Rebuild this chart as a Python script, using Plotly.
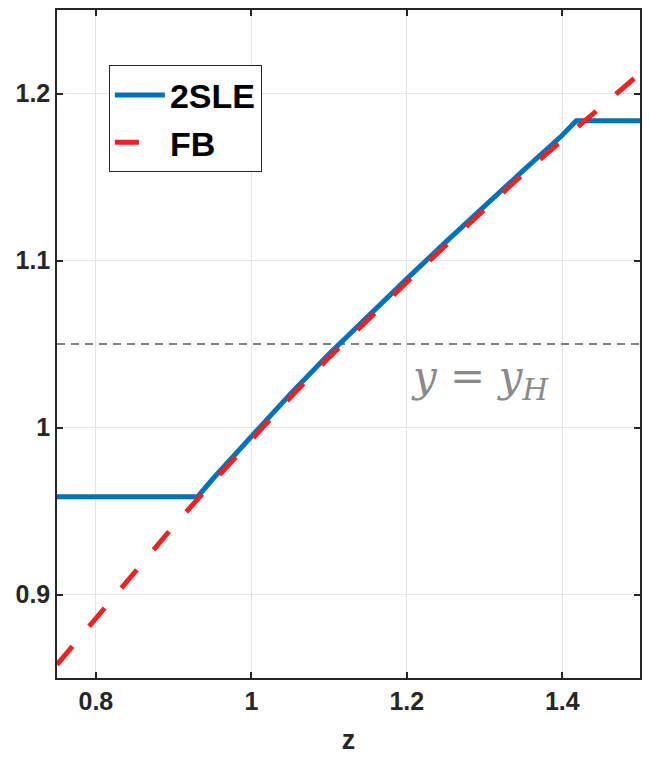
import plotly.graph_objects as go

# --- data ---
z_2sle = [0.75, 0.931, 0.95, 1.0, 1.05, 1.1, 1.15, 1.2, 1.25, 1.3, 1.35, 1.4, 1.418, 1.5]
y_2sle = [0.9586, 0.9586, 0.969, 0.995, 1.020, 1.044, 1.067, 1.089, 1.111, 1.133, 1.154, 1.175, 1.1837, 1.1837]

z_fb = [0.75, 0.8, 0.85, 0.9, 0.95, 1.0, 1.05, 1.1, 1.15, 1.2, 1.25, 1.3, 1.35, 1.4, 1.45, 1.5]
y_fb = [0.858, 0.886, 0.914, 0.941, 0.967, 0.993, 1.018, 1.042, 1.065, 1.087, 1.109, 1.131, 1.152, 1.172, 1.192, 1.212]

y_h = 1.05
x_ticks = [0.8, 1.0, 1.2, 1.4]
x_labels = ["0.8", "1", "1.2", "1.4"]
y_ticks = [0.9, 1.0, 1.1, 1.2]
y_labels = ["0.9", "1", "1.1", "1.2"]

fig = go.Figure()
fig.add_trace(go.Scatter(x=[0.75, 1.5], y=[y_h, y_h], mode="lines",
                         line=dict(color="#808080", width=2, dash="8px,6px"),
                         showlegend=False, hoverinfo="skip"))
fig.add_trace(go.Scatter(x=z_2sle, y=y_2sle, mode="lines", name="<b>2SLE</b>",
                         line=dict(color="#0072BD", width=5)))
fig.add_trace(go.Scatter(x=z_fb, y=y_fb, mode="lines", name="<b>FB</b>",
                         line=dict(color="#EE2222", width=5, dash="24px,26px")))

fig.add_annotation(x=1.294, y=1.0286, xref="x", yref="y", showarrow=False,
                   text="<i>y</i> = <i>y</i><sub><i>H</i></sub>",
                   font=dict(family="DejaVu Serif", size=42, color="#8a8a8a"))

axis_common = dict(showline=True, linecolor="#262626", linewidth=1.5, mirror="ticks",
                   ticks="inside", ticklen=6, tickcolor="#262626", tickwidth=1.5,
                   showgrid=True, gridcolor="#e3e3e3", gridwidth=1, zeroline=False,
                   tickfont=dict(family="Liberation Sans, Arial, sans-serif", size=25, color="#262626"))

fig.update_xaxes(range=[0.75, 1.5], tickvals=x_ticks, ticktext=["<b>%s</b>" % t for t in x_labels],
                 title=dict(text="<b>z</b>", font=dict(family="Liberation Sans, Arial, sans-serif", size=27, color="#262626"), standoff=16),
                 **axis_common)
fig.update_yaxes(range=[0.85, 1.25], tickvals=y_ticks, ticktext=["<b>%s</b>" % t for t in y_labels],
                 **axis_common)

fig.update_layout(
    width=650, height=758,
    margin=dict(l=57, r=8, t=9, b=75),
    plot_bgcolor="white", paper_bgcolor="white",
    legend=dict(x=0.089, y=0.917, xanchor="left", yanchor="top",
                bgcolor="white", bordercolor="#262626", borderwidth=1,
                font=dict(family="Liberation Sans, Arial, sans-serif", size=34, color="black"),
                itemwidth=50, tracegroupgap=0),
)

fig.write_html("out.html")
